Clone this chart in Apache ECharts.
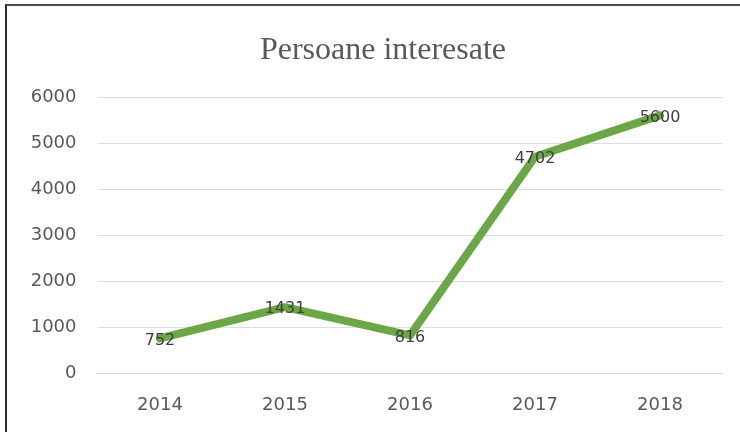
<!DOCTYPE html>
<html>
<head>
<meta charset="utf-8">
<script src="https://cdn.jsdelivr.net/npm/echarts@6/dist/echarts.min.js"></script>
<style>
  html, body { margin: 0; padding: 0; background: #ffffff; }
  #chart { position: absolute; left: 0; top: 0; width: 740px; height: 432px; }
  #frame { position: absolute; left: 5px; top: 4px; width: 800px; height: 500px;
           border-top: 2px solid #4a4a4a; border-left: 2px solid #2e2e2e; pointer-events: none; }
</style>
</head>
<body>
<div id="chart"></div>
<div id="frame"></div>
<script>
// Interested people per year
const years = ['2014', '2015', '2016', '2017', '2018'];
const interested = [752, 1431, 816, 4702, 5600];
const chartTitle = 'Persoane interesate';

const labelFont = '"DejaVu Sans", "Liberation Sans", sans-serif';

const chart = echarts.init(document.getElementById('chart'), null, { renderer: 'canvas' });

chart.setOption({
  backgroundColor: '#ffffff',
  animation: false,
  title: {
    text: chartTitle,
    left: 378,
    top: 30,
    textAlign: 'center',
    textStyle: {
      fontFamily: '"Liberation Serif", "DejaVu Serif", serif',
      fontWeight: 'normal',
      fontSize: 32,
      color: '#595959'
    }
  },
  grid: { left: 97.5, right: 17.5, top: 97, bottom: 59 },
  xAxis: {
    type: 'category',
    data: years,
    boundaryGap: true,
    axisLine: { show: true, lineStyle: { color: '#d9d9d9', width: 1 } },
    axisTick: { show: false },
    axisLabel: {
      color: '#595959',
      fontSize: 18,
      fontFamily: labelFont,
      margin: 23
    }
  },
  yAxis: {
    type: 'value',
    min: 0,
    max: 6000,
    interval: 1000,
    axisLine: { show: false },
    axisTick: { show: false },
    splitLine: { lineStyle: { color: '#dedede', width: 1 } },
    axisLabel: {
      color: '#595959',
      fontSize: 18,
      fontFamily: labelFont,
      margin: 21,
      formatter: function (v) { return String(v); }
    }
  },
  series: [{
    type: 'line',
    data: interested,
    symbol: 'circle',
    symbolSize: 2,
    itemStyle: { color: '#6aa846' },
    lineStyle: { color: '#6aa846', width: 8, cap: 'round', join: 'round' },
    label: {
      show: true,
      position: 'inside',
      offset: [0, 2],
      color: '#404040',
      fontSize: 16,
      fontFamily: labelFont
    }
  }]
});
</script>
</body>
</html>
